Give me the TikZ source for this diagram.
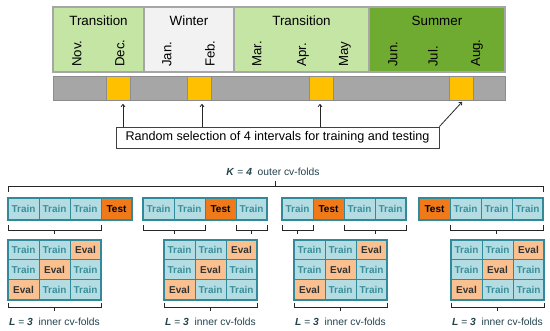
\documentclass[tikz,border=0pt]{standalone}
\usepackage{fontspec}
\setmainfont{Liberation Sans}
\usetikzlibrary{calc,arrows.meta}
\definecolor{trgreen}{HTML}{C5E5A5}
\definecolor{wint}{HTML}{F2F2F2}
\definecolor{summ}{HTML}{6FAB30}
\definecolor{sgray}{HTML}{A6A6A6}
\definecolor{barg}{HTML}{A6A6A6}
\definecolor{bedge}{HTML}{8C8C8C}
\definecolor{yel}{HTML}{FFC000}
\definecolor{trfill}{HTML}{B4DDE3}
\definecolor{tealb}{HTML}{31899A}
\definecolor{trtext}{HTML}{3B8F9B}
\definecolor{testfill}{HTML}{F07A1A}
\definecolor{evalfill}{HTML}{FAC090}
\definecolor{dk}{HTML}{23434D}
\newcommand\brkunder[4]{%
  \draw[brk] ([yshift=-#3]#1.south west) -- ([yshift=-#4]#1.south west)
     -- ([yshift=-#4]#2.south east) -- ([yshift=-#3]#2.south east);
  \draw[brk] ($([yshift=-#4]#1.south west)!.5!([yshift=-#4]#2.south east)$) -- ++(0,4);}
\begin{document}
\begin{tikzpicture}[x=1pt,y=-1pt,
  seasonbox/.style={draw=sgray, line width=1.5pt, inner sep=0, outer sep=0, anchor=north west, minimum height=65pt},
  mon/.style={rotate=90, anchor=west, inner sep=0pt, font=\fontsize{13.2}{13}\selectfont},
  slab/.style={inner sep=0pt, font=\fontsize{13.4}{14}\selectfont},
  seg/.style={draw=bedge, line width=1pt, inner sep=0, outer sep=0, anchor=north west, minimum height=24pt},
  cell/.style={draw=tealb, line width=1pt, inner sep=0, outer sep=0, minimum width=31pt, anchor=north west, font=\fontsize{10}{10}\selectfont\bfseries},
  trainbox/.style={cell, fill=trfill, text=trtext},
  testbox/.style={cell, fill=testfill, text=black},
  evalbox/.style={cell, fill=evalfill, text=black!80},
  frame/.style={draw=tealb, line width=1.6pt},
  brk/.style={draw=black!85, line width=0.8pt},
  arr/.style={-{To[length=3pt,width=4.5pt]}, line width=0.8pt, draw=black!85},
  lab/.style={text=dk, font=\fontsize{10.3}{10}\selectfont}]
\useasboundingbox (0,0) rectangle (550,331);
% seasons
\node[seasonbox, fill=trgreen, minimum width=91pt] (tr1) at (53,7) {};
\node[seasonbox, fill=wint, minimum width=90pt] (win) at (144,7) {};
\node[seasonbox, fill=trgreen, minimum width=135pt] (tr2) at (234,7) {};
\node[seasonbox, fill=summ, minimum width=136pt] (sum) at (369,7) {};
\node[slab] (ltr1) at (98.5,21) {Transition};
\node[slab] (lwin) at (189,21) {Winter};
\node[slab] (ltr2) at (301.5,21) {Transition};
\node[slab] (lsum) at (437,21) {Summer};
\foreach \m/\x in {Nov./77,Dec./120,Jan./167,Feb./210,Mar./257,Apr./303,May/345,Jun./393,Jul./433,Aug./477}
  \node[mon] (m\x) at (\x,67) {\m};
% interval bar
\foreach \i/\a/\b/\c in {1/53/106/barg,2/106/130/yel,3/130/187/barg,4/187/211/yel,5/211/309/barg,6/309/333/yel,7/333/449/barg,8/449/473/yel,9/473/505/barg}
  \node[seg, fill=\c, minimum width={(\b-\a)*1pt}] (s\i) at (\a,77) {};
% selection box
\node[draw=black!75, line width=0.8pt, fill=white, minimum width=323pt, minimum height=21pt, inner sep=0, font=\fontsize{12.6}{13}\selectfont] (sel) at (277.5,137.5) {Random selection of 4 intervals for training and testing};
\coordinate (a1) at (123,104);
\coordinate (a2) at (202,104);
\coordinate (a3) at (320,104);
\coordinate (a4) at (462,102);
\draw[arr] (sel.north -| a1) -- (a1);
\draw[arr] (sel.north -| a2) -- (a2);
\draw[arr] (sel.north -| a3) -- (a3);
\draw[arr] (sel.north east) -- (a4);
% K label
\node[lab] (K) at (273,172) {\textbf{\textit{K}} = \textbf{\textit{4}}\ \ outer cv-folds};
% outer rows
\foreach \g/\x/\t in {1/8/4,2/143/3,3/282/2,4/419/1}{
  \foreach \i in {1,2,3,4}{
    \ifnum\i=\t
      \node[testbox, minimum height=22pt] (o\g-\i) at ({\x+(\i-1)*31},198) {Test};
    \else
      \node[trainbox, minimum height=22pt] (o\g-\i) at ({\x+(\i-1)*31},198) {Train};
    \fi
  }
  \draw[frame] (o\g-1.north west) rectangle (o\g-4.south east);
}
% top bracket
\draw[brk] ([yshift=6pt]o1-1.north west) -- ([yshift=12pt]o1-1.north west) -- ([yshift=12pt]o4-4.north east) -- ([yshift=6pt]o4-4.north east);
\draw[brk] ($([yshift=12pt]o1-1.north west)!.5!([yshift=12pt]o4-4.north east)$) -- ++(0,-5);
% brackets under outer rows
\brkunder{o1-1}{o1-3}{5pt}{10pt}
\brkunder{o2-1}{o2-2}{5pt}{10pt}
\brkunder{o2-4}{o2-4}{5pt}{10pt}
\brkunder{o3-1}{o3-1}{5pt}{10pt}
\brkunder{o3-3}{o3-4}{5pt}{10pt}
\brkunder{o4-2}{o4-4}{5pt}{10pt}
% inner grids
\foreach \g/\x in {1/8,2/164,3/294,4/451}{
  \foreach \r in {1,2,3}{
    \foreach \c in {1,2,3}{
      \pgfmathtruncatemacro\ev{\c+\r}
      \ifnum\ev=4
        \node[evalbox, minimum height=20pt] (g\g-\r-\c) at ({\x+(\c-1)*31},{240+(\r-1)*20}) {Eval};
      \else
        \node[trainbox, minimum height=20pt] (g\g-\r-\c) at ({\x+(\c-1)*31},{240+(\r-1)*20}) {Train};
      \fi
    }
  }
  \draw[frame] (g\g-1-1.north west) rectangle (g\g-3-3.south east);
  \brkunder{g\g-3-1}{g\g-3-3}{3pt}{7pt}
  \node[lab] (L\g) at ($(g\g-3-1.south west)!.5!(g\g-3-3.south east)+(0,22)$) {\textbf{\textit{L}} = \textbf{\textit{3}}\ \ inner cv-folds};
}
\end{tikzpicture}
\end{document}
